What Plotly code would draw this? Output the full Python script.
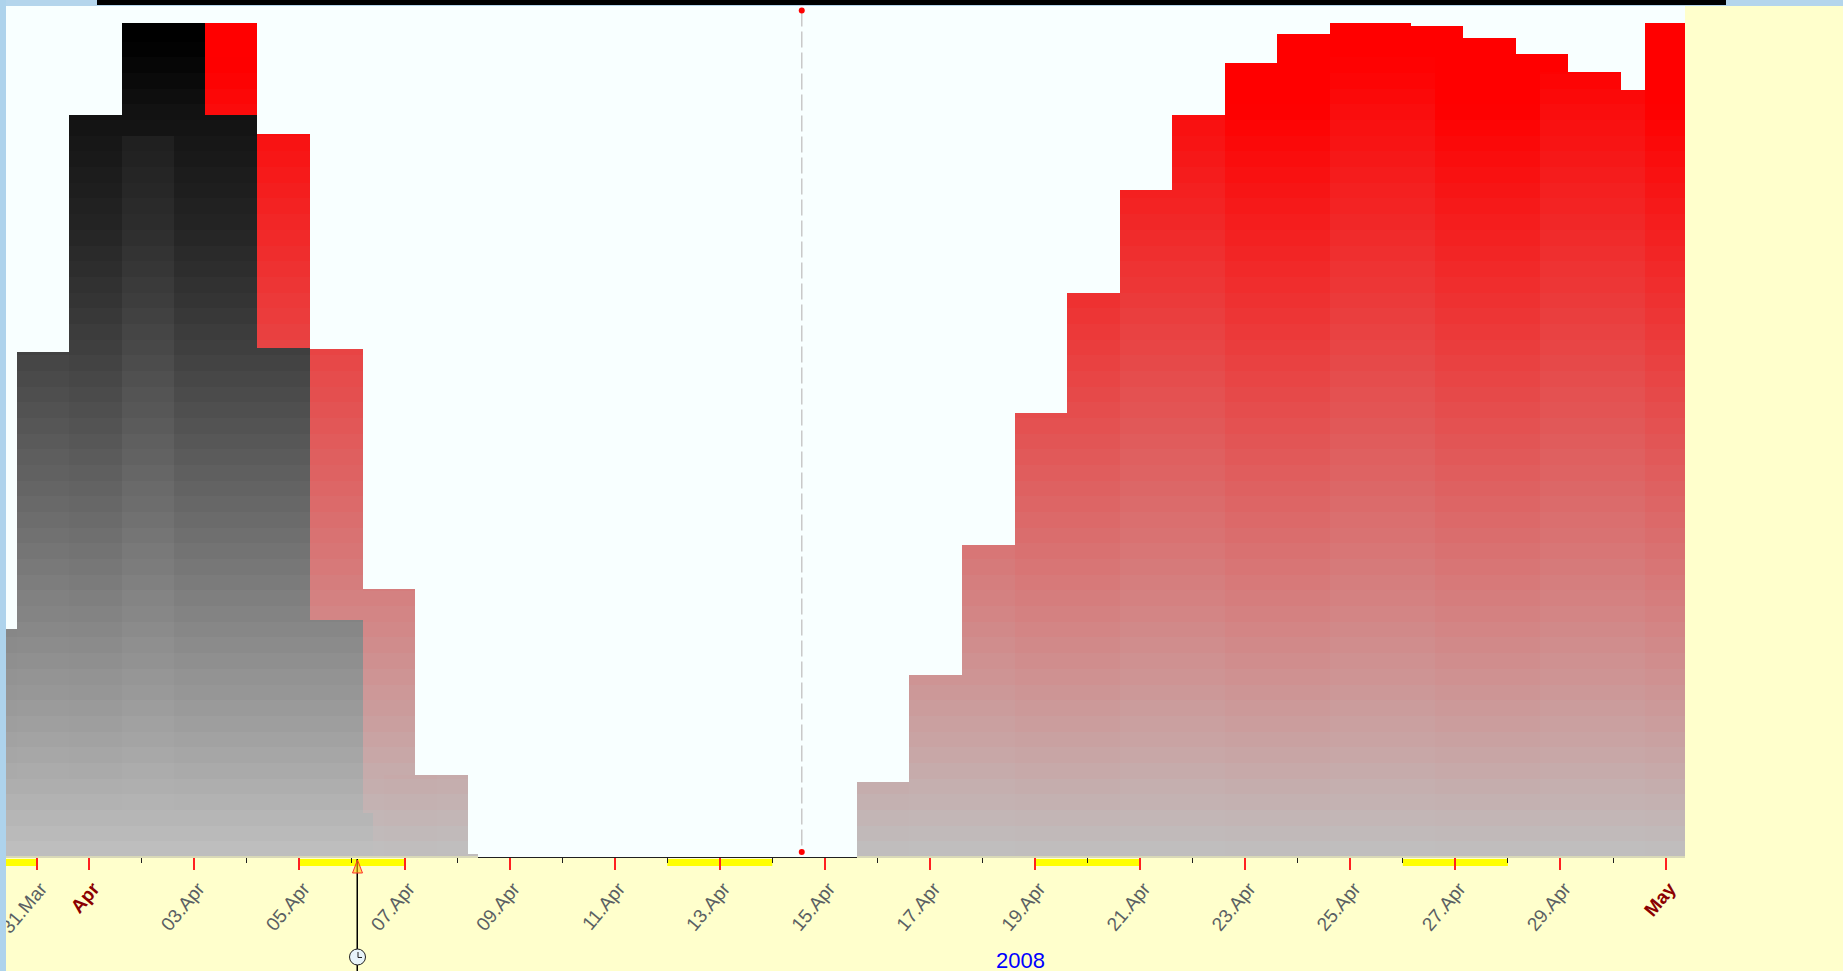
import plotly.graph_objects as go

# page size and plot box, in pixels
wide = 1843
tall = 971
plotLeft = 6
plotRight = 1685
plotTop = 6
plotBottom = 857

# x axis is days after 1 Apr 2008
xLow = -1.585
xHigh = 30.37
yHigh = 102.04

# red series, left edge of bars on .64 of the day
redADays = [6.11, 7.11, 15.11, 16.11, 17.11, 18.11, 19.11, 20.11, 21.11, 22.11, 23.11, 24.11, 25.11, 26.11, 27.11, 28.11, 29.11, 30.11]
redAValues = [9.8, 0, 9.0, 21.8, 37.4, 53.2, 67.6, 80.0, 89.0, 95.2, 98.7, 100, 96.9, 98.0, 96.0, 94.1, 92.0, 100]
redAShade = ["d", "d", "d", "l", "l", "d", "d", "l", "l", "d", "d", "l", "l", "d", "d", "l", "l", "d"]

# red series, right edge of bars on .18 of the day
redBDays = [2.70, 3.70, 4.70, 5.70, 6.70, 24.65, 25.65, 26.65, 27.65, 28.65, 29.65]
redBValues = [100, 86.7, 60.9, 32.1, 9.8, 100, 99.6, 98.2, 96.3, 94.1, 92.0]

redCDays = [6.9]
redCValues = [0.36]

blackADays = [-1.857, -0.885, 0.115, 1.115, 2.115, 3.115, 4.115]
blackAValues = [27.3, 60.6, 89, 100, 89, 61, 28.4]
blackAShade = ["d", "m", "d", "l", "d", "d", "d"]

blackBDays = [1.70, 2.70, 3.70, 4.70]
blackBValues = [100, 89, 61, 28.4]

blackCDays = [4.9]
blackCValues = [5.3]

# grey level of the black gradient at some heights
greyLevels = [0, 28.4, 61, 74.5, 88.9, 98]
greyValues = [192, 133, 64, 38, 19, 0]

# axis ticks
majorDays = [-1, 0, 2, 4, 6, 8, 10, 12, 14, 16, 18, 20, 22, 24, 26, 28, 30]
majorLabels = ["31.Mar", "Apr", "03.Apr", "05.Apr", "07.Apr", "09.Apr", "11.Apr", "13.Apr", "15.Apr",
               "17.Apr", "19.Apr", "21.Apr", "23.Apr", "25.Apr", "27.Apr", "29.Apr", "May"]
minorDays = [1, 3, 5, 7, 9, 11, 13, 15, 17, 19, 21, 23, 25, 27, 29]
weekendStarts = [-3, 4, 11, 18, 25]

nowDay = 13.56
clockDay = 5.1

bandSize = 1.88
labCol = "#5a5f63"
monthCol = "#8b0000"


def paperX(px):
    return (px - plotLeft) / (plotRight - plotLeft)


def paperY(py):
    return (plotBottom - py) / (plotBottom - plotTop)


def redColor(v, sh):
    top = redTops[sh]
    t = min(max(1 - v / top, 0), 1)
    return "rgb(%d,%d,%d)" % (255 - 63 * t, 192 * t, 192 * t)


def blackColor(v, sh):
    grey = 0
    for i in range(len(greyLevels) - 1):
        if greyLevels[i] <= v <= greyLevels[i + 1]:
            f = (v - greyLevels[i]) / (greyLevels[i + 1] - greyLevels[i])
            grey = greyValues[i] + f * (greyValues[i + 1] - greyValues[i])
    # the lighter columns only start below the tallest step
    if v < 87:
        grey += blackLift[sh] * min(v / 60, 1)
    return "rgb(%d,%d,%d)" % (grey, grey, grey)


redTops = {"d": 90, "l": 96, "left": 95}
blackLift = {"d": 0, "m": 3, "l": 9}


def addBands(fig, days, values, shades, colorFn):
    # each band is a thin bar slice, this gives the stepped gradient
    n = int(max(values) / bandSize) + 1
    for b in range(n):
        lo = b * bandSize
        xs, hs, cs = [], [], []
        for day, val, sh in zip(days, values, shades):
            if val > lo:
                xs.append(day)
                hs.append(min(val, lo + bandSize) - lo)
                cs.append(colorFn(lo + bandSize / 2, sh))
        fig.add_trace(go.Bar(x=xs, y=hs, base=lo, width=1.0, marker_color=cs, marker_line_width=0,
                             showlegend=False, hoverinfo="skip"))


fig = go.Figure()

redBShade = ["left"] * 5 + ["d", "l", "d", "d", "l", "l"]
addBands(fig, redBDays, redBValues, redBShade, redColor)
addBands(fig, redADays, redAValues, redAShade, redColor)
addBands(fig, redCDays, redCValues, ["d"], redColor)
addBands(fig, blackCDays, blackCValues, ["d"], blackColor)
addBands(fig, blackBDays, blackBValues, ["d"] * 4, blackColor)
addBands(fig, blackADays, blackAValues, blackAShade, blackColor)

# dashed marker line with the two red dots
fig.add_trace(go.Scatter(x=[nowDay, nowDay], y=[101.5, 0.6], mode="lines+markers",
                         line=dict(color="#c9c9c9", width=1.5, dash="16px,5px"),
                         marker=dict(color="#ff0000", size=6), showlegend=False, hoverinfo="skip"))

tickText = []
for lab in majorLabels:
    if lab in ("Apr", "May"):
        tickText.append('<b><span style="color:%s">%s</span></b>' % (monthCol, lab))
    else:
        tickText.append(lab)

shapes = []
# page edges
shapes.append(dict(type="rect", xref="paper", yref="paper", x0=paperX(0), x1=paperX(wide), y0=paperY(0), y1=paperY(6),
                   fillcolor="#b4d5ec", line_width=0, layer="above"))
shapes.append(dict(type="rect", xref="paper", yref="paper", x0=paperX(0), x1=paperX(6), y0=paperY(0), y1=paperY(tall),
                   fillcolor="#aed3ec", line_width=0, layer="above"))
shapes.append(dict(type="rect", xref="paper", yref="paper", x0=paperX(97), x1=paperX(1726), y0=paperY(0), y1=paperY(5),
                   fillcolor="#000000", line_width=0, layer="above"))
# pale line between bars and axis
for a, b in [(6, 478), (857, 1685)]:
    shapes.append(dict(type="rect", xref="paper", yref="paper", x0=paperX(a), x1=paperX(b), y0=paperY(856), y1=paperY(858),
                       fillcolor="#d9d9b8", line_width=0, layer="above"))
# yellow weekend strips
for start in weekendStarts:
    shapes.append(dict(type="rect", xref="x", yref="paper", x0=max(start, xLow), x1=start + 2, y0=paperY(859), y1=paperY(866),
                       fillcolor="#ffff00", line_width=0, layer="below"))
# clock marker
shapes.append(dict(type="line", xref="x", yref="paper", x0=clockDay, x1=clockDay, y0=paperY(859), y1=paperY(971),
                   line=dict(color="#000000", width=1.5), layer="above"))
cx = paperX(357.5)
shapes.append(dict(type="path", xref="paper", yref="paper",
                   path="M %f,%f L %f,%f L %f,%f Z" % (cx, paperY(860), paperX(352.5), paperY(873), paperX(362.5), paperY(873)),
                   line=dict(color="#ff3030", width=1), fillcolor="rgba(255,200,0,0.6)", layer="above"))
shapes.append(dict(type="circle", xref="paper", yref="paper", x0=paperX(349.5), x1=paperX(365.5), y0=paperY(949), y1=paperY(965),
                   fillcolor="#e8f4fa", line=dict(color="#202020", width=1), layer="above"))
shapes.append(dict(type="path", xref="paper", yref="paper",
                   path="M %f,%f L %f,%f L %f,%f" % (paperX(358), paperY(952), paperX(358), paperY(957.5), paperX(362), paperY(957.5)),
                   line=dict(color="#202020", width=1), layer="above"))

fig.update_layout(width=wide, height=tall, barmode="overlay", bargap=0, showlegend=False,
                  margin=dict(l=plotLeft, r=wide - plotRight, t=plotTop, b=tall - plotBottom, pad=0, autoexpand=False),
                  paper_bgcolor="#ffffcc", plot_bgcolor="#f8ffff", shapes=shapes,
                  font=dict(family="Liberation Sans, Arial, sans-serif"),
                  annotations=[dict(text="2008", xref="paper", yref="paper", x=paperX(1020), y=paperY(961),
                                    showarrow=False, font=dict(color="#0000ff", size=22),
                                    xanchor="center", yanchor="middle")])
fig.update_xaxes(range=[xLow, xHigh], tickmode="array", tickvals=majorDays, ticktext=tickText, tickangle=-50,
                 tickfont=dict(size=19, color=labCol), ticks="outside", ticklen=12, tickwidth=1.5, tickcolor="#ff2020",
                 ticklabeloverflow="allow", ticklabelshift=4, automargin=False,
                 showgrid=False, zeroline=False, showline=True, linecolor="#202020", linewidth=1,
                 minor=dict(tickmode="array", tickvals=minorDays, ticks="outside", ticklen=5, tickwidth=1, tickcolor="#202020", showgrid=False))
fig.update_yaxes(range=[0, yHigh], visible=False, showgrid=False, zeroline=False, automargin=False)

fig.write_html("out.html", config={"displayModeBar": False},
               post_script="document.body.style.margin='0';document.documentElement.style.overflow='hidden';")
